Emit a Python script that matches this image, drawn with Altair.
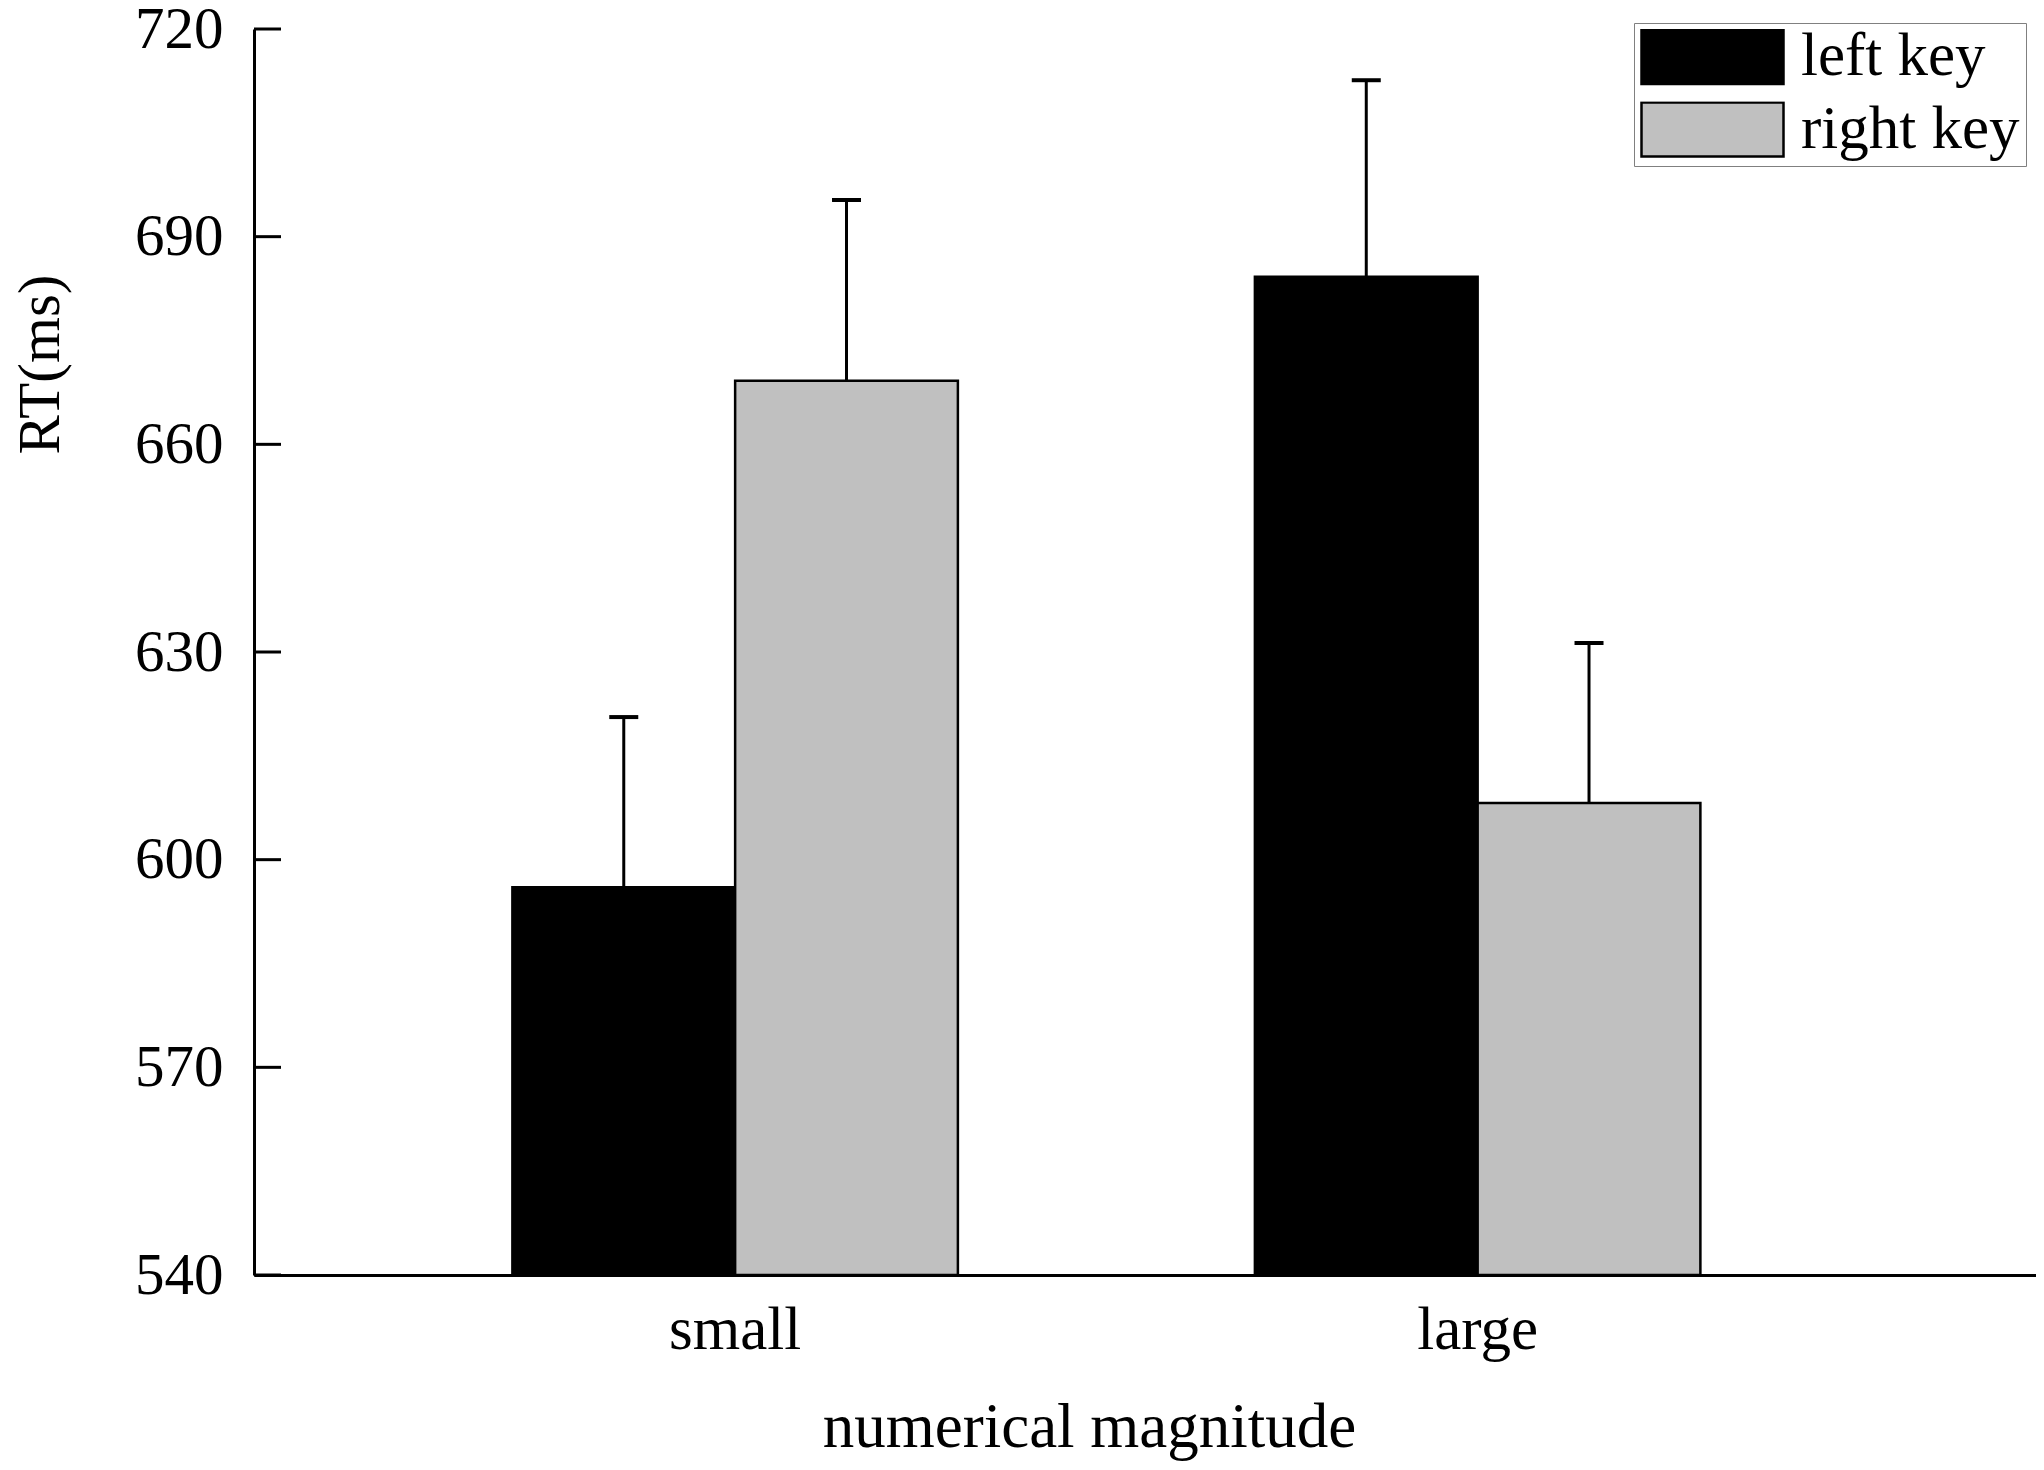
import altair as alt
import pandas as pd

categories = ["small", "large"]
keys = ["left key", "right key"]
left_means = [596.0, 684.2]
right_means = [669.2, 608.2]
left_se = [24.6, 28.4]
right_se = [26.1, 23.1]
y_ticks = [540, 570, 600, 630, 660, 690, 720]
colors = ["#000000", "#c0c0c0"]

rows = []
for i, c in enumerate(categories):
    rows.append({"magnitude": c, "key": keys[0], "rt": left_means[i], "se": left_se[i]})
    rows.append({"magnitude": c, "key": keys[1], "rt": right_means[i], "se": right_se[i]})
df = pd.DataFrame(rows)
df["upper"] = df["rt"] + df["se"]
ticks_df = pd.DataFrame({"tick": y_ticks})

FONT = "Liberation Serif"

x_scale = alt.Scale(paddingInner=0.4, paddingOuter=0.4, align=0.435)
x_axis = alt.Axis(title="numerical magnitude", labelAngle=0, ticks=False,
                  labelPadding=25, labelFontSize=61, titleFontSize=63,
                  titleX=835, titleY=171, titleBaseline="alphabetic")
xo_scale = alt.Scale(paddingInner=0, paddingOuter=0)
y_scale = alt.Scale(domain=[540, 720], nice=False, zero=False)
y_axis = alt.Axis(values=y_ticks, title="RT(ms)", ticks=False, labelPadding=31,
                  labelFontSize=59, titleFontSize=59, titleX=-196, titleY=335,
                  titleBaseline="alphabetic", grid=False)

X = alt.X("magnitude:N", sort=categories, scale=x_scale, axis=x_axis)
XO = alt.XOffset("key:N", sort=keys, scale=xo_scale)

bars = alt.Chart(df).mark_bar(stroke="black", strokeWidth=2.5).encode(
    x=X,
    xOffset=XO,
    y=alt.Y("rt:Q", scale=y_scale, axis=y_axis),
    y2=alt.datum(540),
    color=alt.Color(
        "key:N",
        scale=alt.Scale(domain=keys, range=colors),
        legend=alt.Legend(
            title=None, orient="none", legendX=1380, legendY=-6,
            symbolType="M-1,-0.38L1,-0.38L1,0.38L-1,0.38Z", symbolSize=20164,
            symbolStrokeColor="black", symbolStrokeWidth=2.5, symbolOpacity=1,
            labelFontSize=61, labelFont=FONT, labelColor="black", labelOffset=16,
            labelLimit=500, clipHeight=56, rowPadding=11.5, padding=6,
            strokeColor="#808080", fillColor="white", labelBaseline="middle",
        ),
    ),
)

err = alt.Chart(df).mark_rule(color="black", strokeWidth=3).encode(
    x=X,
    xOffset=XO,
    y=alt.Y("rt:Q", scale=y_scale, axis=y_axis),
    y2="upper:Q",
)

caps = alt.Chart(df).mark_tick(color="black", thickness=4, size=29, orient="horizontal", opacity=1).encode(
    x=X,
    xOffset=XO,
    y=alt.Y("upper:Q", scale=y_scale, axis=y_axis),
)

yticks = alt.Chart(ticks_df).mark_rule(color="black", strokeWidth=3).encode(
    y=alt.Y("tick:Q", scale=y_scale, axis=y_axis),
    x=alt.value(0),
    x2=alt.value(27),
)

chart = alt.layer(bars, err, caps, yticks).properties(
    width=1782,
    height=1246,
    padding={"left": 246, "top": 21, "right": 0, "bottom": 186},
    autosize=alt.AutoSizeParams(type="none"),
).configure_view(stroke=None).configure_axis(
    labelFont=FONT, titleFont=FONT, labelColor="black", titleColor="black",
    domainColor="black", domainWidth=3, titleFontWeight="normal",
)

chart.save("out.html", embed_options={"renderer": "svg", "actions": False})
